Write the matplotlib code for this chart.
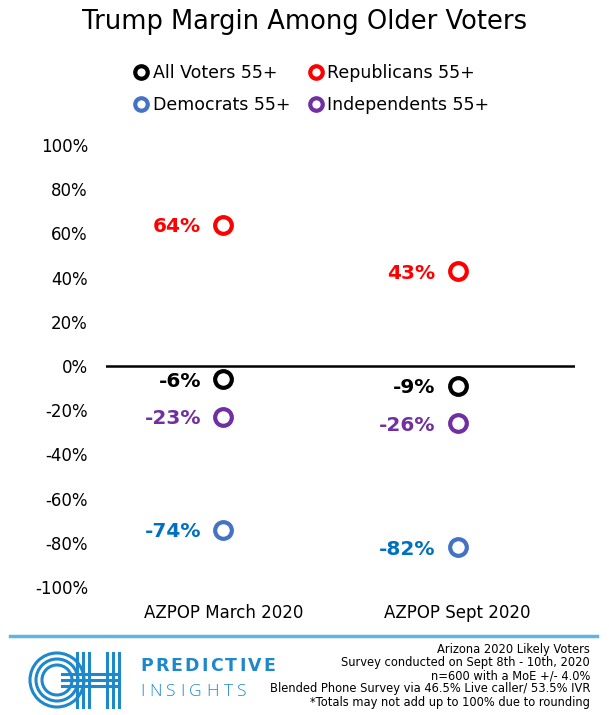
import numpy as np
import matplotlib
matplotlib.use("Agg")
from matplotlib import pyplot as plt
from matplotlib.patches import Circle
from matplotlib.lines import Line2D

plt.rcParams['font.family'] = ['DejaVu Sans']

# data
periods = ["AZPOP March 2020", "AZPOP Sept 2020"]
groups = ["All Voters 55+", "Republicans 55+", "Democrats 55+", "Independents 55+"]
all_voters = [-6, -9]
republicans = [64, 43]
democrats = [-74, -82]
independents = [-23, -26]
yticks = [100, 80, 60, 40, 20, 0, -20, -40, -60, -80, -100]
footer_lines = ["Arizona 2020 Likely Voters",
                "Survey conducted on Sept 8th - 10th, 2020",
                "n=600 with a MoE +/- 4.0%",
                "Blended Phone Survey via 46.5% Live caller/ 53.5% IVR",
                "*Totals may not add up to 100% due to rounding"]

marker_cols = ["black", "#FF0000", "#4472C4", "#7030A0"]
label_cols = ["black", "#FF0000", "#0070C0", "#7030A0"]
series = [all_voters, republicans, democrats, independents]

W, H = 609, 715
fig = plt.figure(figsize=(W/100, H/100), dpi=100)
ax = fig.add_axes([106/W, 1-587/H, (575-106)/W, (587-145)/H])

x = np.arange(len(periods))
for vals, mc, lc in zip(series, marker_cols, label_cols):
    ax.plot(x, vals, linestyle="none", marker="o", markersize=12,
            markerfacecolor="white", markeredgecolor=mc, markeredgewidth=3.0, zorder=3)
    for xi, v in zip(x, vals):
        ax.annotate("%d%%" % v, (xi, v), xytext=(-16, -1.5), textcoords="offset points",
                    ha="right", va="center", fontsize=14.5, fontweight="bold", color=lc)

ax.axhline(0, color="black", lw=1.8, zorder=1)
ax.set_xlim(-0.5, 1.5)
ax.set_ylim(-100, 100)
ax.set_yticks(yticks)
ax.set_yticklabels(["%d%%" % t for t in yticks], fontsize=12)
ax.set_xticks(x)
ax.set_xticklabels(periods, fontsize=12)
ax.tick_params(axis="y", length=0, pad=13)
ax.tick_params(axis="x", length=0, pad=12)
for s in ax.spines.values():
    s.set_visible(False)

fig.text(0.5, 1-22/H, "Trump Margin Among Older Voters", ha="center", va="center", fontsize=18.5)

handles = [Line2D([], [], linestyle="none", marker="o", markersize=9, markerfacecolor="white",
                  markeredgecolor=c, markeredgewidth=3) for c in marker_cols]
order = [0, 2, 1, 3]
fig.legend([handles[i] for i in order], [groups[i] for i in order], ncol=2,
           loc="center", bbox_to_anchor=(312/W, 1-89/H), frameon=False, fontsize=12.5,
           handletextpad=0.25, columnspacing=1.1, labelspacing=0.85, handlelength=0.8)

# footer overlay
ov = fig.add_axes([0, 0, 1, 1], zorder=-1)
ov.set_xlim(0, W)
ov.set_ylim(H, 0)
ov.axis("off")
ov.plot([10, 597], [636, 636], color="#5DB4E5", lw=2.5)
for i, line in enumerate(footer_lines):
    ov.text(590, 649 + i*13.3, line, ha="right", va="center", fontsize=8.3,
            family=["Liberation Sans Narrow", "DejaVu Sans"])

# logo
blue = "#1E88CB"
for r in [27, 21, 15]:
    ov.add_patch(Circle((57, 680), r, fill=False, ec=blue, lw=2.2))
for xx in [77, 83, 89]:
    ov.plot([xx, xx], [653, 707], color=blue, lw=2.2)
for xx in [107, 113, 119]:
    ov.plot([xx, xx], [653, 707], color=blue, lw=2.2)
for yy in [674, 680, 686]:
    ov.plot([62, 119], [yy, yy], color=blue, lw=2.2)

renderer = fig.canvas.get_renderer()
def spaced(word, x0, y0, gap, **kw):
    xx = x0
    for ch in word:
        t = ov.text(xx, y0, ch, ha="left", va="center", **kw)
        bb = t.get_window_extent(renderer)
        xx += bb.width + gap

spaced("PREDICTIVE", 140, 666, 2.2, fontsize=12.5, fontweight="bold", color=blue)
spaced("INSIGHTS", 140, 692, 4.6, fontsize=12.5, color=blue,
       family=["Open Sans", "DejaVu Sans"], fontweight="light")

fig.savefig("out.png", dpi=100)
